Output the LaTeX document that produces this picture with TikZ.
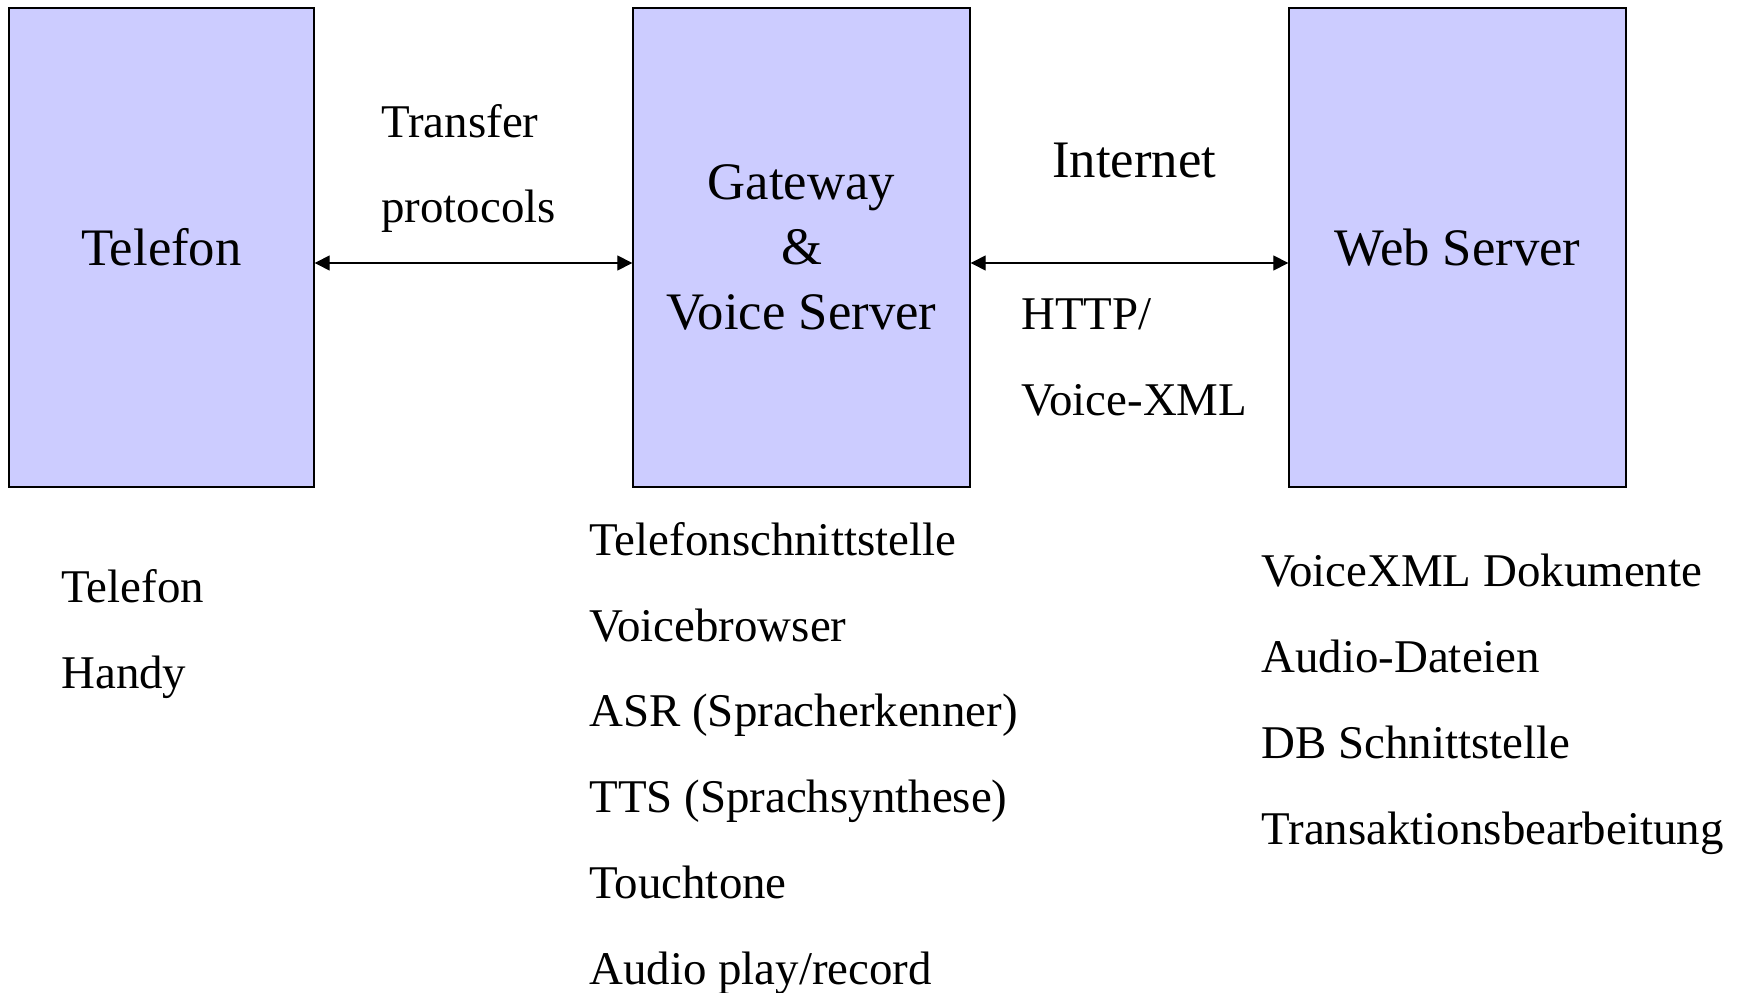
\documentclass[tikz,border=0pt]{standalone}
\usepackage{fontspec}
\setmainfont{Liberation Serif}
\usetikzlibrary{arrows.meta,positioning}

\begin{document}
\begin{tikzpicture}[x=0.02cm, y=-0.02cm,
			block/.style={rectangle, draw=black, line width=0.8pt, fill=blue!20,
				minimum width=6.74cm, minimum height=9.58cm, align=center,
				font=\fontsize{30}{36.9}\selectfont},
			line/.style={draw, line width=0.7pt, {Triangle[length=0.3cm,width=0.3cm]}-{Triangle[length=0.3cm,width=0.3cm]}},
			lbl/.style={anchor=base west, inner sep=0pt, align=left, font=\fontsize{26.7}{48.8}\selectfont},
			biglbl/.style={anchor=base west, inner sep=0pt, font=\fontsize{30}{36}\selectfont}]
			\useasboundingbox (0,0) rectangle (1738,993);
			
			% Boxes
			\node[block, minimum width=6.1cm, fill={rgb,255:red,204;green,204;blue,255}] (tel) at (161.5,247.5) {Telefon};
			\node[block, fill={rgb,255:red,204;green,204;blue,255}] (gw) at (801.5,247.5) {Gateway\\\&\\Voice Server};
			\node[block, fill={rgb,255:red,204;green,204;blue,255}] (web) at (1457.5,247.5) {Web Server};
			
			% Connections
			\path[line] (tel.east |- 0,263) -- (gw.west |- 0,263);
			\path[line] (gw.east |- 0,263) -- (web.west |- 0,263);
			
			% Connection labels
			\node[lbl] (tp) at (381,223) {Transfer\\protocols};
			\node[biglbl] (inet) at (1052,178) {Internet};
			\node[lbl] (http) at (1021,415) {HTTP/\\Voice-XML};
			
			% Lists
			\node[lbl] (tellist) at (61,688) {Telefon\\Handy};
			\node[lbl] (gwlist) at (589,984) {Telefonschnittstelle\\Voicebrowser\\ASR (Spracherkenner)\\TTS (Sprachsynthese)\\Touchtone\\Audio play/record};
			\node[lbl] (weblist) at (1261,844) {VoiceXML Dokumente\\Audio-Dateien\\DB Schnittstelle\\Transaktionsbearbeitung};
		\end{tikzpicture}
\end{document}
